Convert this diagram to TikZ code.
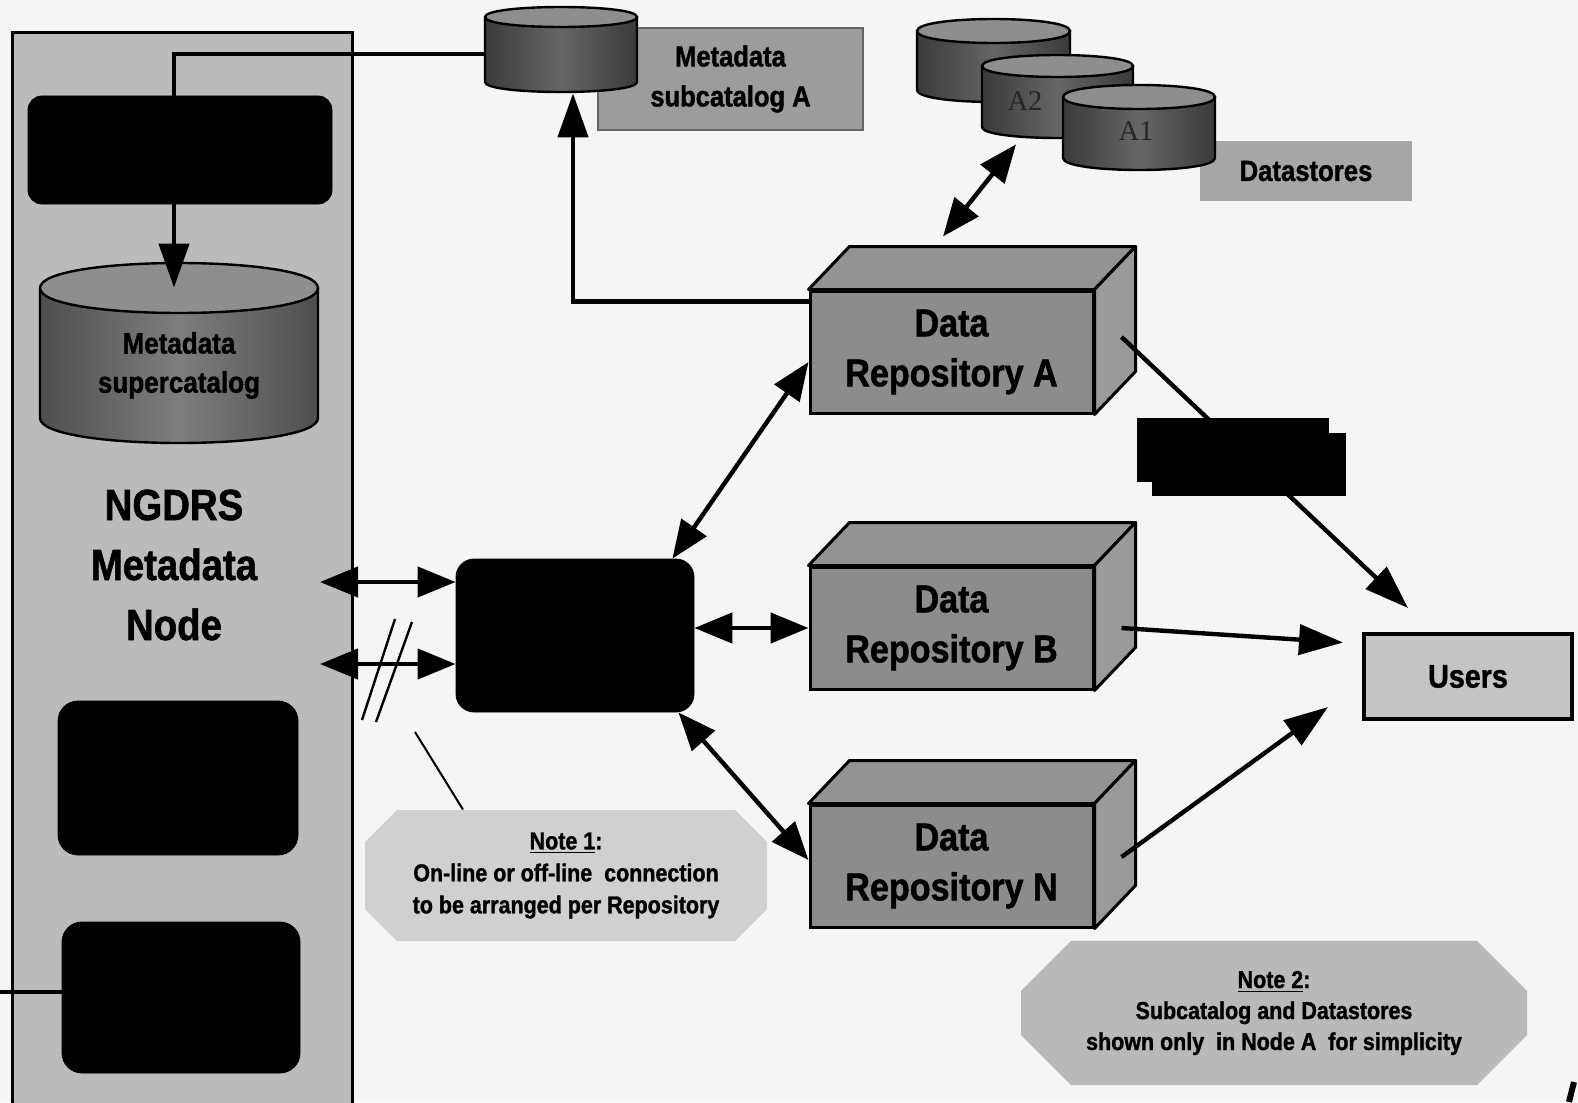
\documentclass[tikz,border=0pt]{standalone}
\usepackage{fontspec}
\newfontfamily\cf{Liberation Sans}[FakeStretch=0.88,BoldFeatures={FakeBold=1.3}]
\newfontfamily\serf{Liberation Serif}
\usetikzlibrary{arrows.meta,shapes.misc,calc}
\definecolor{bg}{HTML}{F5F5F5}
\definecolor{panelgray}{HTML}{BBBBBB}
\definecolor{repofront}{HTML}{8C8C8C}
\definecolor{reposide}{HTML}{9A9A9A}
\definecolor{repotop}{HTML}{939393}
\definecolor{subbox}{HTML}{9C9C9C}
\definecolor{dsbox}{HTML}{A6A6A6}
\definecolor{usersgray}{HTML}{C4C4C4}
\definecolor{noteone}{HTML}{D0D0D0}
\definecolor{notetwo}{HTML}{B9B9B9}
\definecolor{cyltop}{HTML}{8E8E8E}
\definecolor{cyledge}{HTML}{3A3A3A}
\definecolor{cylmid}{HTML}{666666}
\definecolor{bigedge}{HTML}{4E4E4E}
\definecolor{bigmid}{HTML}{7E7E7E}
\newcommand\mycyl[7]{%
  \path[draw=black,line width=1.2pt,left color=#6,right color=#6,middle color=#7]
    ({#1-#3},{#2}) -- ({#1-#3},{#2+#5})
    .. controls ({#1-#3},{#2+#5+1.333*#4}) and ({#1+#3},{#2+#5+1.333*#4}) .. ({#1+#3},{#2+#5})
    -- ({#1+#3},{#2}) -- cycle;
  \path[draw=black,line width=1.2pt,fill=cyltop]
    ({#1-#3},{#2})
    .. controls ({#1-#3},{#2-1.333*#4}) and ({#1+#3},{#2-1.333*#4}) .. ({#1+#3},{#2})
    .. controls ({#1+#3},{#2+1.333*#4}) and ({#1-#3},{#2+1.333*#4}) .. ({#1-#3},{#2});
}
\begin{document}
\begin{tikzpicture}[x=0.5pt,y=-0.5pt,
  conn/.style={draw=black,line width=2.2pt},
  arrowone/.style={-{Triangle[length=22pt,width=15pt]}},
  arrowtwo/.style={{Triangle[length=19pt,width=15pt]}-{Triangle[length=19pt,width=15pt]}},
  blackbox/.style={fill=black,draw=black,inner sep=0pt},
  repo/.style={draw=black,line width=1.5pt,fill=repofront,inner sep=0pt,
    minimum width=141.5pt,minimum height=61pt,align=center,
    font=\cf\bfseries\fontsize{19.4pt}{25pt}\selectfont},
  repotopface/.style={draw=black,line width=1.5pt,fill=repotop,line join=round},
  reposideface/.style={draw=black,line width=1.5pt,fill=reposide,line join=round},
  plainbox/.style={inner sep=0pt,align=center}
]
\useasboundingbox (0,0) rectangle (1578,1102);
\clip (0,0) rectangle (1578,1102);
\fill[bg] (0,0) rectangle (1578,1102);

% ---------- left panel ----------
\node[draw=black,line width=1.5pt,fill=panelgray,inner sep=0pt,
  minimum width=170pt,minimum height=538.5pt] (panel) at (182,571.5) {};
\node[blackbox,rounded corners=7pt,minimum width=152pt,minimum height=54pt] (blk1) at (180,150) {};
\mycyl{179}{288}{139}{25}{130}{bigedge}{bigmid}
\node[plainbox,minimum width=139pt,minimum height=77.5pt,
  font=\cf\bfseries\fontsize{14.8pt}{19.5pt}\selectfont] (supercyl) at (179,365.5) {Metadata\\supercatalog};
\node[plainbox,font=\cf\bfseries\fontsize{21.8pt}{30pt}\selectfont] (ngdrs) at (174,565) {NGDRS\\Metadata\\Node};
\node[blackbox,rounded corners=10pt,minimum width=120pt,minimum height=77pt] (blk2) at (178,778) {};
\node[blackbox,rounded corners=10pt,minimum width=119pt,minimum height=75.5pt] (blk3) at (181,997.5) {};
\coordinate (edgeL) at (0,992);
\draw[line width=2pt] (edgeL) -- (edgeL -| blk3.west);

% ---------- metadata subcatalog ----------
\node[draw=black!60,line width=0.6pt,fill=subbox,inner sep=0pt,minimum width=132.5pt,minimum height=51pt,
  font=\cf\bfseries\fontsize{14.5pt}{20pt}\selectfont,align=center] (subbox) at (730.5,79)
  {Metadata\\subcatalog A};
\mycyl{561}{17}{76}{10}{65}{cyledge}{cylmid}
\node[inner sep=0pt,minimum width=76pt,minimum height=39pt] (subcyl) at (561,54) {};

% ---------- datastores ----------
\node[fill=dsbox,inner sep=0pt,minimum width=106pt,minimum height=30pt,
  font=\cf\bfseries\fontsize{14.6pt}{18pt}\selectfont] (dsbox) at (1306,171) {Datastores};
\mycyl{993.5}{31}{76.5}{12}{59}{cyledge}{cylmid}
\node[inner sep=0pt,minimum width=76.5pt,minimum height=35pt] (ds0) at (993.5,66) {};
\mycyl{1057.5}{66}{75.5}{11}{61}{cyledge}{cylmid}
\node[inner sep=0pt,minimum width=75.5pt,minimum height=38pt] (dsA2) at (1057.5,100) {};
\node[font=\serf\fontsize{14.3pt}{16pt}\selectfont,text=black!85,inner sep=0pt] (lblA2) at (1025,101) {A2};
\mycyl{1139}{97}{76}{12}{61}{cyledge}{cylmid}
\node[inner sep=0pt,minimum width=76pt,minimum height=37pt] (dsA1) at (1139,133) {};
\node[font=\serf\fontsize{14.3pt}{16pt}\selectfont,text=black!85,inner sep=0pt] (lblA1) at (1136,131) {A1};

% ---------- repositories ----------
\foreach \nm/\yy/\lt in {repoA/352/A,repoB/628/B,repoN/866/N}{
  \node[repo] (\nm) at (951.5,\yy) {Data\\Repository \lt};
  \draw[repotopface] (\nm.north west) -- ++(41,-43) -- ($(\nm.north east)+(41,-43)$) -- (\nm.north east) -- cycle;
  \draw[reposideface] (\nm.north east) -- ($(\nm.north east)+(41,-43)$) -- ($(\nm.south east)+(41,-43)$) -- (\nm.south east) -- cycle;
}

% ---------- hub ----------
\node[blackbox,rounded corners=9pt,minimum width=119pt,minimum height=76.5pt] (hub) at (575,635.5) {};

% ---------- users ----------
\node[draw=black,line width=2pt,fill=usersgray,inner sep=0pt,minimum width=104pt,minimum height=42.5pt,
  font=\cf\bfseries\fontsize{16.3pt}{20pt}\selectfont] (users) at (1468,676.5) {Users};

% ---------- notes ----------
\node[chamfered rectangle,chamfered rectangle xsep=8pt,chamfered rectangle ysep=8pt,
  fill=noteone,inner sep=0pt,minimum width=201pt,minimum height=65.5pt,align=center,
  font=\cf\bfseries\fontsize{12.2pt}{16pt}\selectfont] (note1) at (566,875.5)
  {\underline{Note 1}:\\On-line or off-line\ \ connection\\to be arranged per Repository};
\node[chamfered rectangle,chamfered rectangle xsep=10pt,chamfered rectangle ysep=15pt,
  fill=notetwo,inner sep=0pt,minimum width=253pt,minimum height=67pt,align=center,
  font=\cf\bfseries\fontsize{12.2pt}{15.5pt}\selectfont] (note2) at (1274,1013)
  {\underline{Note 2}:\\Subcatalog and Datastores\\shown only\ \ in Node A\ \ for simplicity};

% ---------- connectors ----------
\draw[conn,arrowone] (subcyl.west) -| ([xshift=-2.5pt]supercyl.north);
\draw[conn,arrowone] ([yshift=-6pt]repoA.north west) -| ([xshift=6pt]subcyl.south);
\draw[conn,arrowtwo] ([xshift=-4.25pt,yshift=26.5pt]repoA.north) -- ([xshift=-20.75pt,yshift=-3pt]dsA2.south);

\coordinate (pa1) at (320,582);
\coordinate (pa2) at (320,664);
\draw[conn,arrowtwo] (pa1) -- (pa1 -| hub.west);
\draw[conn,arrowtwo] (pa2) -- (pa2 -| hub.west);
\coordinate (brkA1) at (362,720); \coordinate (brkA2) at (395,619);
\coordinate (brkB1) at (376,722); \coordinate (brkB2) at (412,622);
\draw[line width=1.2pt] (brkA1) -- (brkA2);
\draw[line width=1.2pt] (brkB1) -- (brkB2);
\coordinate (brk) at (415,732);
\draw[line width=1pt] (brk) -- ([xshift=-51.5pt]note1.north);

\draw[conn,arrowtwo] ([xshift=-11pt]hub.north east) -- ([yshift=-5pt]repoA.west);
\draw[conn,arrowtwo] (repoB.west -| hub.east) -- (repoB.west);
\draw[conn,arrowtwo] ([xshift=-8pt]hub.south east) -- ([yshift=3pt]repoN.west);

\draw[conn,arrowone] ([xshift=13.5pt,yshift=7.5pt]repoA.east) -- ([xshift=23pt,yshift=12pt]users.north west);
\draw[conn,arrowone] ([xshift=13.5pt]repoB.east) -- ([xshift=-9.5pt,yshift=17pt]users.west);
\draw[conn,arrowone] ([xshift=13.5pt,yshift=4.5pt]repoN.east) -- ([xshift=-17pt,yshift=7pt]users.south west);

\node[blackbox,minimum width=95.5pt,minimum height=31.5pt] (lbl1) at (1232.5,449.5) {};
\node[blackbox,minimum width=96.5pt,minimum height=31pt] (lbl2) at (1248.5,464) {};

\coordinate (mkA) at (1574,1082);
\coordinate (mkB) at (1569,1102);
\draw[line width=3pt] (mkA) -- (mkB);
\end{tikzpicture}
\end{document}
